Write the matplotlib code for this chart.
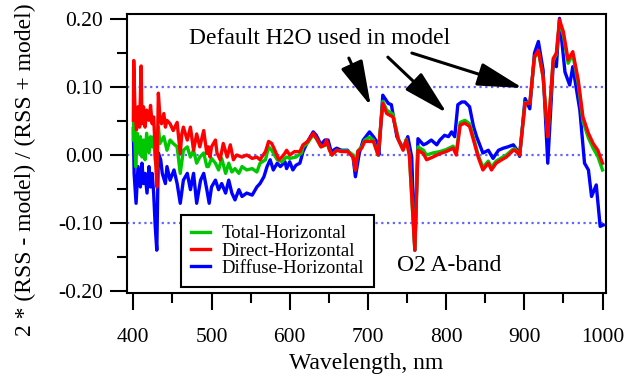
import matplotlib
matplotlib.use('Agg')
import matplotlib.pyplot as plt
from matplotlib.ticker import MultipleLocator, FormatStrFormatter

# global plot settings
plt.rcParams['font.family'] = ['Liberation Serif', 'DejaVu Serif']
plt.rcParams['axes.unicode_minus'] = False
fontsize = 15.5
labelsize = 17

# Direct-Horizontal (red)
direct_wl = [400, 400.5, 402, 404, 406, 408, 410, 411, 413, 415, 417, 420, 422, 424, 426, 428, 430, 432, 434, 436,
             439, 441, 443, 447, 451, 456, 460, 462, 464, 469, 473, 477, 481, 485, 490, 494,
             496, 498, 500, 505, 507, 511, 515, 520, 524, 528, 532, 539, 545, 552, 558, 562, 569, 573, 577, 581,
             586, 590, 594,
             596, 600, 606, 613, 617, 623, 630, 634, 640, 645, 647, 651, 654, 660, 666, 674, 681, 684, 687, 692,
             696, 707, 713, 719, 724, 732, 739, 745, 749, 753, 760, 764, 771, 775, 783, 792,
             800, 809, 813, 818, 824, 830, 835, 841, 847, 854, 858, 864, 871, 877, 886,
             888, 894, 901, 907, 913, 918, 924, 930, 937, 941, 945, 950, 956, 962, 969, 975, 982, 988, 994, 1000]
direct = [0.051, 0.139, 0.071, 0.037, 0.071, 0.041, 0.131, 0.046, 0.071, 0.041, 0.066, 0.051, 0.073, 0.046, 0.056,
          0.007, -0.047, 0.091, 0.056, 0.046, 0.061, 0.041, 0.051, 0.046, 0.036, 0.048, 0.002, 0.031, 0.041, 0.022,
          0.041, 0.007, 0.031, 0.012, 0.036, 0.002,
          0.012, -0.003, 0.012, 0.022, 0.003, -0.007, 0.017, -0.003, 0.015, -0.007, 0.0, -0.003, 0.0, -0.005,
          -0.003, -0.007, 0.005, 0.02, 0.017, 0.007, -0.007, -0.003, 0.003,
          0.007, 0.0, 0.005, 0.005, 0.015, 0.02, 0.032, 0.025, 0.012, 0.015, 0.022, 0.007, 0.0, 0.007, 0.005,
          0.005, -0.003, -0.022, 0.005, 0.01,
          0.02, 0.02, 0.0, 0.076, 0.061, 0.056, 0.022, 0.007, 0.022, 0.0, -0.14, 0.007, 0.002, -0.007, -0.003, 0.002,
          0.005, 0.01, 0.0, 0.044, 0.047, 0.042, 0.022, -0.003, -0.022, -0.012, -0.022, -0.012, -0.007, -0.003, 0.007,
          0.007, 0.0, 0.076, 0.076, 0.145, 0.154, 0.115, 0.027, 0.142, 0.15, 0.199, 0.181, 0.14, 0.152, 0.11,
          0.056, 0.032, 0.017, 0.007, -0.012]

# Total-Horizontal (green)
total_wl = [400, 401, 403, 405, 407, 409, 411, 413, 415, 417, 420, 422, 424, 426, 428, 430, 432, 434, 439, 443,
            447, 451, 456, 460, 464, 469, 473, 477, 481, 485, 490, 494,
            496, 500, 505, 509, 513, 518, 522, 526, 530, 535, 539, 545, 552, 558, 562, 569, 573, 577, 584, 590, 594,
            596, 600, 608, 615, 617, 623, 630, 634, 640, 645, 647, 651, 654, 660, 666, 674, 681, 684, 687, 692,
            696, 702, 707, 713, 719, 724, 732, 739, 745, 749, 753, 760, 764, 771, 775, 783, 792,
            800, 809, 813, 818, 824, 830, 835, 841, 847, 854, 858, 864, 871, 877, 886,
            888, 894, 901, 907, 913, 918, 924, 930, 937, 941, 945, 950, 956, 962, 969, 975, 982, 988, 994, 1000]
total = [0.022, 0.066, -0.017, 0.032, 0.003, 0.027, -0.003, 0.022, -0.007, 0.032, 0.003, 0.027, 0.012, 0.027,
         -0.007, -0.02, 0.042, 0.017, 0.027, 0.007, 0.022, 0.017, 0.012, -0.027, 0.007, 0.012, -0.003, 0.007,
         -0.012, -0.003, 0.003, -0.017,
         -0.017, -0.005, -0.012, -0.022, -0.005, -0.027, -0.012, -0.025, -0.02, -0.027, -0.017, -0.022, -0.02,
         -0.025, -0.012, -0.007, 0.012, 0.007, -0.007, -0.01, -0.005,
         -0.003, -0.005, -0.003, 0.003, 0.012, 0.018, 0.03, 0.024, 0.012, 0.014, 0.02, 0.007, 0.0, 0.007, 0.006,
         0.006, 0.0, -0.022, 0.006, 0.012,
         0.022, 0.026, 0.022, 0.0, 0.079, 0.066, 0.06, 0.023, 0.008, 0.023, 0.0, -0.14, 0.012, 0.007, 0.0, 0.003, 0.005,
         0.008, 0.013, 0.003, 0.048, 0.051, 0.046, 0.026, 0.0, -0.018, -0.009, -0.018, -0.009, -0.004, 0.0, 0.009,
         0.009, 0.0, 0.077, 0.076, 0.143, 0.152, 0.115, 0.027, 0.14, 0.148, 0.196, 0.176, 0.135, 0.148, 0.105,
         0.05, 0.025, 0.01, -0.002, -0.022]

# Diffuse-Horizontal (blue)
diffuse_wl = [400, 401, 403.5, 406, 409, 411, 413, 415, 417.5, 420, 422, 424, 426, 428, 430, 432, 435, 437, 441, 443,
              447, 452, 456, 460, 464, 469, 473, 477, 481, 486, 490,
              494, 497, 500, 505, 509, 513, 518, 522, 526, 530, 535, 539, 545, 552, 558, 562, 567, 571, 575, 579,
              584, 588, 594,
              596, 600, 604, 608, 613, 617, 623, 630, 634, 640, 645, 649, 653, 660, 666, 674, 681, 684, 689,
              694, 702, 707, 711, 714, 719, 726, 730, 737, 745, 751, 756, 760, 764, 771, 775, 781, 788,
              792, 798, 803, 807, 811, 815, 820, 824, 830, 835, 839, 847, 854, 860, 867, 873, 879, 886, 892,
              894, 901, 907, 913, 918, 924, 930, 937, 941, 945, 952, 958, 962, 971, 977, 982, 986, 992, 997, 1001]
diffuse = [0.039, -0.027, -0.071, -0.017, -0.047, -0.012, -0.042, -0.027, -0.056, -0.017, -0.047, -0.027, -0.056,
           -0.105, -0.14, 0.003, -0.007, -0.027, -0.042, -0.017, -0.037, -0.022, -0.042, -0.071, -0.037, -0.027,
           -0.051, -0.027, -0.071, -0.037, -0.027,
           -0.051, -0.071, -0.047, -0.037, -0.051, -0.042, -0.056, -0.037, -0.056, -0.066, -0.051, -0.061, -0.056,
           -0.059, -0.047, -0.042, -0.032, -0.017, -0.007, -0.022, -0.012, -0.017, -0.01,
           -0.02, -0.01, -0.022, -0.015, -0.012, 0.005, 0.02, 0.034, 0.029, 0.015, 0.022, 0.022, 0.005, 0.01, 0.007,
           0.007, -0.003, -0.032, 0.003,
           0.022, 0.034, 0.027, 0.02, 0.0, 0.088, 0.076, 0.074, 0.027, 0.01, 0.027, -0.003, -0.14, 0.024, 0.015,
           0.017, 0.022, 0.015,
           0.022, 0.029, 0.027, 0.034, 0.027, 0.074, 0.078, 0.078, 0.071, 0.042, 0.027, 0.003, 0.007, -0.005, 0.007,
           0.01, 0.012, 0.015, 0.005,
           -0.002, 0.083, 0.068, 0.15, 0.167, 0.125, -0.012, 0.135, 0.13, 0.201, 0.122, 0.103, 0.13, 0.066, -0.012,
           -0.022, -0.061, -0.044, -0.105, -0.103]

grid_levels = [-0.1, 0.0, 0.1]

# arrows (tail -> tip) pointing at the water bands
arrow_tails = [(675.6, 0.1426), (725.5, 0.144), (756.2, 0.150)]
arrow_tips = [(703.7, 0.072), (800.9, 0.0618), (898.1, 0.0985)]

fig = plt.figure(figsize=(6.35, 3.77), dpi=100)
ax = fig.add_axes([0.2, 0.2228, 0.754, 0.740])

for lev in grid_levels:
    ax.axhline(lev, color='#6464ff', linestyle=(0, (1, 1.6)), linewidth=1.6, zorder=1)

l_diff, = ax.plot(diffuse_wl, diffuse, color='#0000ff', linewidth=2.4, label='Diffuse-Horizontal', zorder=2)
l_tot, = ax.plot(total_wl, total, color='#00c800', linewidth=2.4, label='Total-Horizontal', zorder=3)
l_dir, = ax.plot(direct_wl, direct, color='#ff0000', linewidth=2.4, label='Direct-Horizontal', zorder=4)

ax.set_xlim(391.9, 1004.2)
ax.set_ylim(-0.203, 0.2074)

ax.xaxis.set_major_locator(MultipleLocator(100))
ax.xaxis.set_minor_locator(MultipleLocator(50))
ax.yaxis.set_major_locator(MultipleLocator(0.1))
ax.yaxis.set_minor_locator(MultipleLocator(0.05))
ax.yaxis.set_major_formatter(FormatStrFormatter('%.2f'))

ax.tick_params(which='major', direction='out', length=12.5, width=1.5, labelsize=fontsize, pad=5)
ax.tick_params(which='minor', direction='out', length=7.5, width=1.5)
ax.tick_params(axis='x', which='major', pad=13)
for sp in ax.spines.values():
    sp.set_linewidth(1.5)

ax.set_xlabel('Wavelength, nm', fontsize=labelsize, labelpad=4)
ax.set_ylabel('2 * (RSS - model) / (RSS + model)', fontsize=labelsize)
ax.yaxis.set_label_coords(-0.19, 0.441)

ax.text(638.7, 0.172, 'Default H2O used in model', fontsize=17, ha='center', va='center')
ax.text(737, -0.163, 'O2 A-band', fontsize=17, ha='left', va='center')

for tail, tip in zip(arrow_tails, arrow_tips):
    ax.annotate('', xy=tip, xytext=tail,
                arrowprops=dict(arrowstyle='-|>,head_length=1.4,head_width=0.36',
                                mutation_scale=20, color='black', lw=2.2,
                                shrinkA=0, shrinkB=0))

leg = ax.legend([l_tot, l_dir, l_diff], ['Total-Horizontal', 'Direct-Horizontal', 'Diffuse-Horizontal'],
                loc='lower left', bbox_to_anchor=(0.1127, 0.0215), fontsize=13.5,
                fancybox=False, framealpha=1, edgecolor='black', handlelength=1.0,
                handletextpad=0.6, borderpad=0.55, labelspacing=0.0, borderaxespad=0)
leg.get_frame().set_linewidth(1.5)
leg.set_zorder(5)

fig.savefig('out.png', dpi=100)
